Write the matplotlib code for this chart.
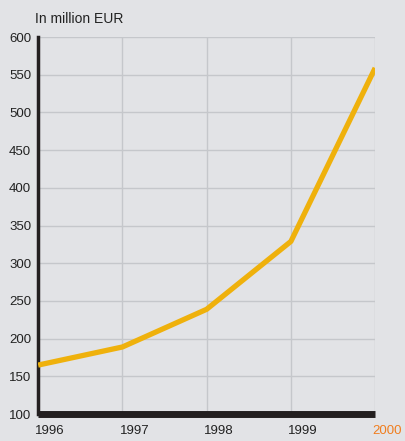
import matplotlib
matplotlib.use("Agg")
import matplotlib.pyplot as plt
import matplotlib.transforms as mtransforms

years = [1996, 1997, 1998, 1999, 2000]
revenue = [165, 189, 239, 329, 559]
y_ticks = list(range(100, 601, 50))

plt.rcParams['font.family'] = ['Liberation Sans', 'DejaVu Sans']

bg = '#e2e3e6'
fig = plt.figure(figsize=(4.06, 4.41), dpi=100, facecolor=bg)
ax = fig.add_axes([0.094, 0.061, 0.830, 0.855], facecolor=bg)

ax.plot(years, revenue, color='#efb10c', linewidth=3.8, solid_capstyle='butt', zorder=3)

ax.set_xlim(1996, 2000)
ax.set_ylim(100, 600)
ax.set_yticks(y_ticks)
ax.set_xticks(years)
ax.set_xticklabels([str(y) for y in years], ha='left')

ax.grid(True, color='#c5c7cb', linewidth=1.0, zorder=1)
ax.tick_params(axis='both', length=0, labelsize=9.5, colors='#222222')
ax.tick_params(axis='x', pad=8)
ax.tick_params(axis='y', pad=5)

# nudge year labels a little to the left
shift = mtransforms.ScaledTranslation(-2 / 72, 0, fig.dpi_scale_trans)
for lbl in ax.get_xticklabels():
    lbl.set_transform(lbl.get_transform() + shift)
ax.get_xticklabels()[-1].set_color('#f07d1e')

for side in ['top', 'right']:
    ax.spines[side].set_visible(False)
ax.spines['left'].set_linewidth(2.5)
ax.spines['left'].set_color('#231f20')
ax.spines['bottom'].set_linewidth(5)
ax.spines['bottom'].set_color('#231f20')
ax.spines['bottom'].set_capstyle('butt')

fig.text(0.086, 0.958, 'In million EUR', fontsize=10, color='#222222', va='center', ha='left')

fig.savefig('out.png', dpi=100, facecolor=bg)
